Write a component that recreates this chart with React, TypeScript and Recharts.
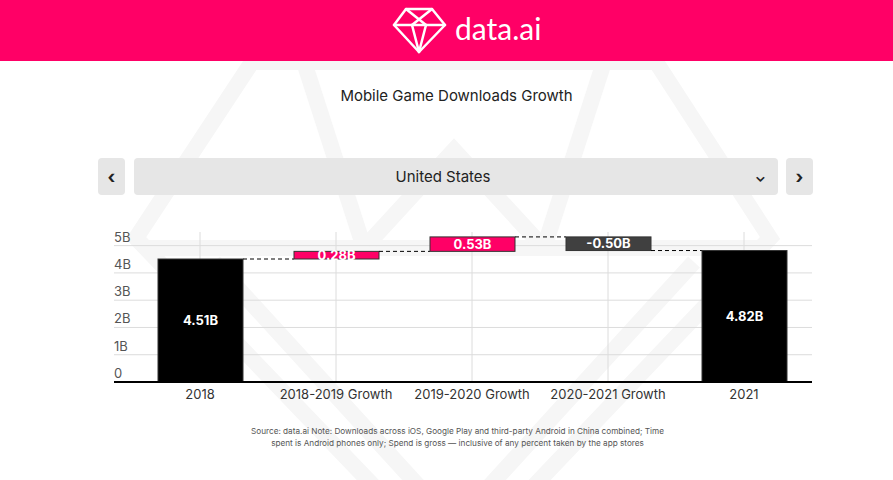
import React from 'react';
import {
  BarChart,
  Bar,
  XAxis,
  YAxis,
  CartesianGrid,
  LabelList
} from 'recharts';

// chart values (billions of downloads)
const categories = ['2018', '2018-2019 Growth', '2019-2020 Growth', '2020-2021 Growth', '2021'];
const changes = [4.51, 0.28, 0.53, -0.5, 4.82];
const kinds = ['total', 'growth', 'growth', 'growth', 'total'];
const yTicks = [0, 1, 2, 3, 4, 5];
const yTickLabels = ['0', '1B', '2B', '3B', '4B', '5B'];

const PINK = '#ff0066';
const FONT = 'Inter, "Noto Sans", sans-serif';

// layout
const CHART_W = 893;
const CHART_H = 200;
const Y_AXIS_W = 20;
const MARGIN = { top: 12, right: 81, bottom: 8, left: 94 };
const PLOT_LEFT = MARGIN.left + Y_AXIS_W;
const PAD_LEFT = 18;
const BAR_SIZE = 85;
const BAND = (CHART_W - PLOT_LEFT - MARGIN.right - PAD_LEFT) / categories.length;
const GAP = BAND - BAR_SIZE;

// waterfall ranges built from the changes
let running = 0;
const data = categories.map((name, i) => {
  const v = changes[i];
  let range: number[];
  if (kinds[i] === 'total') {
    range = [0, v];
    running = v;
  } else {
    const start = running;
    running = start + v;
    range = [Math.min(start, running), Math.max(start, running)];
  }
  return { name, range, change: v, kind: kinds[i], label: `${v.toFixed(2)}B` };
});

const barColor = (kind: string, v: number) =>
  kind === 'total' ? '#000000' : v < 0 ? '#404040' : PINK;

const WaterfallBar = (props: any) => {
  const { x, width, payload, index } = props;
  const y = Math.min(props.y, props.y + props.height);
  const h = Math.abs(props.height);
  const endY = payload.kind === 'growth' && payload.change < 0 ? y + h : y;
  return (
    <g>
      <rect x={x} y={y} width={width} height={h} fill={barColor(payload.kind, payload.change)} stroke="#333" strokeWidth={1} />
      {index < data.length - 1 && (
        <line x1={x + width} x2={x + width + GAP} y1={endY} y2={endY} stroke="#000" strokeDasharray="4 3" />
      )}
    </g>
  );
};

const YTick = (props: any) => {
  const { y, payload } = props;
  const i = yTicks.indexOf(payload.value);
  return (
    <text x={PLOT_LEFT} y={y - 4} fill="#555" fontSize={13} fontFamily={FONT} textAnchor="start">
      {yTickLabels[i]}
    </text>
  );
};

const Watermark = () => (
  <svg width={893} height={480} style={{ position: 'absolute', left: 0, top: 0 }}>
    <g fill="none" stroke="#f6f6f6" strokeWidth={16} strokeLinejoin="miter">
      <polygon points="252,62 656,62 770,238 454,570 136,238" />
      <line x1={144} y1={248} x2={764} y2={248} />
      <polyline points="214,262 454,525 694,262" />
      <polyline points="364,248 454,150 544,248" />
      <line x1={304} y1={62} x2={364} y2={248} />
      <line x1={604} y1={62} x2={544} y2={248} />
    </g>
  </svg>
);

const Logo = () => (
  <svg width={60} height={52} style={{ position: 'absolute', left: 390, top: 4 }}>
    <g fill="none" stroke="#fff" strokeWidth={2.5} strokeLinejoin="round" strokeLinecap="round">
      <polygon points="16,5 42,5 55,21 29,48 4,21" />
      <line x1={4} y1={21} x2={55} y2={21} />
      <line x1={16} y1={5} x2={36} y2={21} />
      <line x1={42} y1={5} x2={22} y2={21} />
      <line x1={22} y1={21} x2={29} y2={48} />
      <line x1={36} y1={21} x2={29} y2={48} />
    </g>
  </svg>
);

const btn: React.CSSProperties = {
  position: 'absolute',
  top: 158,
  height: 37,
  background: '#e6e6e6',
  borderRadius: 4,
  display: 'flex',
  alignItems: 'center',
  justifyContent: 'center',
  color: '#222',
  fontFamily: FONT,
  boxSizing: 'border-box',
};

export default function App() {
  return (
    <div style={{ position: 'fixed', left: 0, top: 0, width: 893, height: 480, background: '#fff', overflow: 'hidden', fontFamily: FONT }}>
      <Watermark />
      <div style={{ position: 'absolute', left: 0, top: 0, width: 893, height: 61, background: PINK }}>
        <Logo />
        <div style={{ position: 'absolute', left: 455, top: 8, color: '#fff', fontSize: 30, fontFamily: 'Lato, sans-serif', lineHeight: '40px' }}>
          data.ai
        </div>
      </div>
      <div style={{ position: 'absolute', left: 10, width: 893, top: 86, textAlign: 'center', fontSize: 15, color: '#222' }}>
        Mobile Game Downloads Growth
      </div>
      <div style={{ ...btn, left: 98, width: 27, fontSize: 18, fontWeight: 700 }}>‹</div>
      <div style={{ ...btn, left: 134, width: 644, fontSize: 15, paddingRight: 26 }}>
        United States
        <span style={{ position: 'absolute', right: 12, fontSize: 14, fontWeight: 700 }}>⌄</span>
      </div>
      <div style={{ ...btn, left: 786, width: 27, fontSize: 18, fontWeight: 700 }}>›</div>
      <div style={{ position: 'absolute', left: 0, top: 220 }}>
        <BarChart width={CHART_W} height={CHART_H} data={data} margin={MARGIN}>
          <CartesianGrid stroke="#dcdcdc" syncWithTicks />
          <XAxis
            dataKey="name"
            padding={{ left: PAD_LEFT, right: 0 }}
            tickLine={false}
            axisLine={{ stroke: '#000', strokeWidth: 2 }}
            tick={{ fill: '#333', fontSize: 13, fontFamily: FONT }}
            interval={0}
            height={30}
          />
          <YAxis domain={[0, 5.5]} ticks={yTicks} width={Y_AXIS_W} axisLine={false} tickLine={false} tick={<YTick />} interval={0} />
          <Bar dataKey="range" barSize={BAR_SIZE} shape={<WaterfallBar />} isAnimationActive={false}>
            <LabelList dataKey="label" position="center" fill="#fff" fontSize={13} fontWeight={700} fontFamily={FONT} />
          </Bar>
        </BarChart>
      </div>
      <div style={{ position: 'absolute', left: 11, width: 893, top: 425, textAlign: 'center', fontSize: 8.2, lineHeight: '12px', color: '#555' }}>
        Source: data.ai Note: Downloads across iOS, Google Play and third-party Android in China combined; Time
        <br />
        spent is Android phones only; Spend is gross — inclusive of any percent taken by the app stores
      </div>
    </div>
  );
}
